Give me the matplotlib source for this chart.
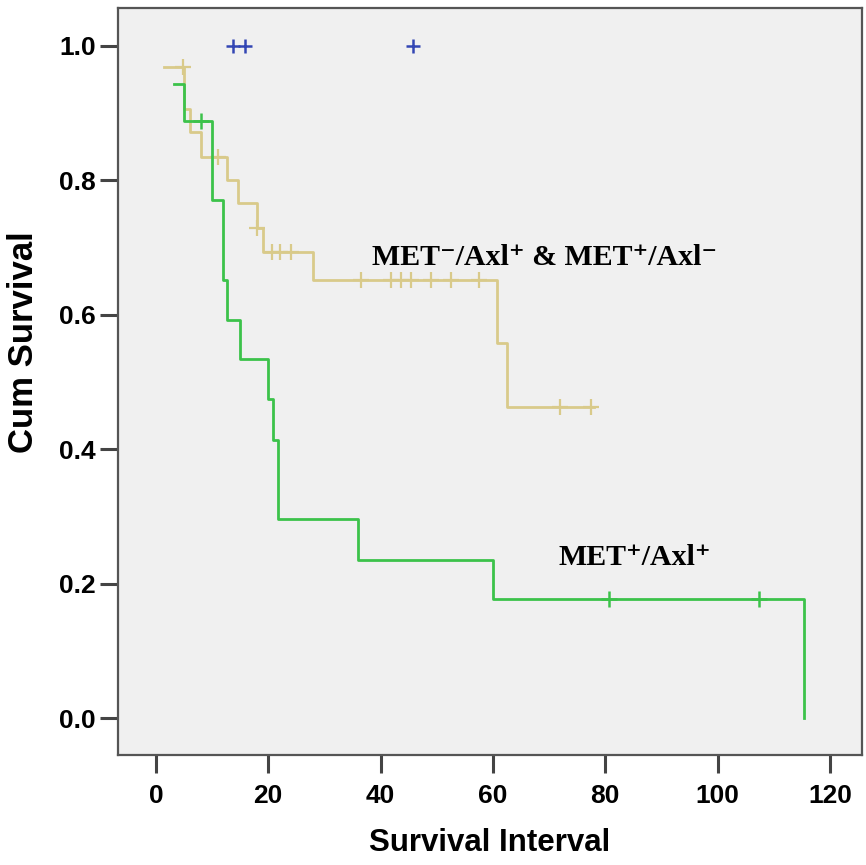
import numpy as np
import matplotlib
matplotlib.use("Agg")
import matplotlib.pyplot as plt

# step data (months, cumulative survival)
low_times = [1.5, 5.0, 6.0, 8.0, 12.7, 14.7, 18.0, 19.0, 28.0, 60.7, 62.5, 78.0]
low_surv = [0.969, 0.906, 0.872, 0.835, 0.800, 0.766, 0.729, 0.693, 0.652, 0.558, 0.463, 0.463]
low_censored = [4.8, 11.0, 18.0, 20.7, 22.1, 24.0, 36.6, 41.9, 43.7, 45.5, 49.0, 52.6, 57.5, 72.0, 77.5]

high_times = [3.2, 5.0, 10.0, 12.0, 12.7, 15.0, 20.0, 20.9, 21.8, 36.0, 60.0, 115.4]
high_surv = [0.944, 0.889, 0.771, 0.652, 0.592, 0.534, 0.475, 0.414, 0.296, 0.235, 0.177, 0.0]
high_censored = [8.0, 80.7, 107.4]

neg_censored = [13.8, 15.9, 45.7]
neg_surv = 1.0

x_ticks = [0, 20, 40, 60, 80, 100, 120]
y_ticks = [0.0, 0.2, 0.4, 0.6, 0.8, 1.0]

label_low = "MET\u207b/Axl\u207a & MET\u207a/Axl\u207b"
label_high = "MET\u207a/Axl\u207a"


def surv_at(times, surv, t):
    idx = np.searchsorted(times, t, side="right") - 1
    idx = max(idx, 0)
    return surv[idx]


fig = plt.figure(figsize=(8.66, 8.65), dpi=100)
ax = fig.add_axes([0.1363, 0.1272, 0.8591, 0.8636])
ax.set_facecolor("#f0f0f0")

tan = "#d9ca8a"
green = "#3cc24a"
blue = "#3346b4"

ax.step(low_times, low_surv, where="post", color=tan, lw=2.0)
ax.plot(low_censored, [surv_at(low_times, low_surv, t) for t in low_censored],
        ls="none", marker="+", ms=11, mew=1.6, color=tan)

ax.step(high_times, high_surv, where="post", color=green, lw=2.0)
ax.plot(high_censored, [surv_at(high_times, high_surv, t) for t in high_censored],
        ls="none", marker="+", ms=11, mew=1.8, color=green)

ax.plot(neg_censored, [neg_surv] * len(neg_censored),
        ls="none", marker="+", ms=10, mew=1.8, color=blue)

serif = ["Liberation Serif", "DejaVu Serif"]
ax.text(38.5, 0.674, label_low, family=serif, fontweight="bold",
        fontsize=21.5, va="baseline", ha="left", color="black")
ax.text(71.6, 0.228, label_high, family=serif, fontweight="bold",
        fontsize=21.5, va="baseline", ha="left", color="black")

sans = ["Liberation Sans", "DejaVu Sans"]
ax.set_xlim(-6.73, 125.7)
ax.set_ylim(-0.055, 1.0565)
ax.set_xticks(x_ticks)
ax.set_yticks(y_ticks)
ax.set_yticklabels([f"{v:.1f}" for v in y_ticks], family=sans,
                   fontweight="bold", fontsize=19)
ax.set_xticklabels([str(v) for v in x_ticks], family=sans,
                   fontweight="bold", fontsize=19)
ax.tick_params(axis="both", length=13, width=2.2, color="#444444", pad=3)
ax.tick_params(axis="x", pad=8)

for side in ["left", "right", "top", "bottom"]:
    ax.spines[side].set_color("#555555")
    ax.spines[side].set_linewidth(1.6)

ax.set_xlabel("Survival Interval", family=sans,
              fontweight="bold", fontsize=22.5, labelpad=14)
ax.set_ylabel("Cum Survival", family=sans,
              fontweight="bold", fontsize=25)
ax.yaxis.set_label_coords(-0.105, 0.553)

fig.savefig("out.png", dpi=100)
